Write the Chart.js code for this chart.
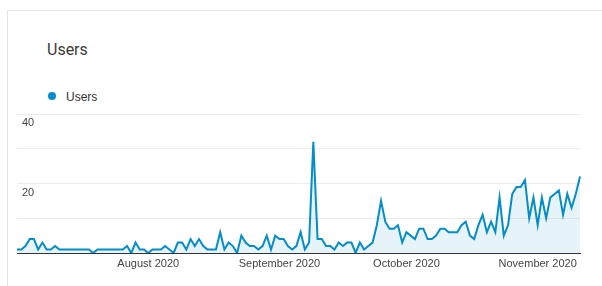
<!DOCTYPE html>
<html>
<head>
<meta charset="utf-8">
<script src="https://cdn.jsdelivr.net/npm/chart.js@4"></script>
<style>
    html, body { margin: 0; padding: 0; background: #fff; }
    #wrap { position: relative; width: 602px; height: 286px; overflow: hidden; }
    #card { position: absolute; left: 7px; top: 10px; right: 0; bottom: 0; border-left: 1px solid #e6e6e6; border-top: 1px solid #e6e6e6; }
    #title { position: absolute; left: 47px; top: 42px; font: 16px/16px Roboto, Arial, sans-serif; color: #3a3a3a; }
    #legend { position: absolute; left: 0; top: 0; }
    .legend-dot { position: absolute; left: 48px; top: 92px; width: 8px; height: 8px; border-radius: 50%; }
    .legend-text { position: absolute; left: 66px; top: 91px; font: 12px/12px "Liberation Sans", Arial, sans-serif; color: #333; white-space: nowrap; }
    canvas { position: absolute; left: 0; top: 0; }
</style>
</head>
<body>
<div id="wrap">
    <div id="card"></div>
    <div id="title">Users</div>
    <div id="legend"></div>
    <canvas id="myChart" width="602" height="286"></canvas>
</div>
<script>
const startDate = '2020-07-01';
const monthLabels = ['August 2020', 'September 2020', 'October 2020', 'November 2020'];
const yTickLabels = [20, 40];

// daily users, Jul 1 - Nov 11 2020
const users = [
    1, 1, 2, 4, 4, 1, 3, 1, 1, 2,
    1, 1, 1, 1, 1, 1, 1, 1, 0, 1,
    1, 1, 1, 1, 1, 1, 2, 0, 3, 1,
    1, 0, 1, 1, 1, 2, 1, 0, 3, 3,
    1, 4, 2, 4, 2, 1, 1, 1, 6, 1,
    3, 2, 0, 5, 3, 2, 2, 1, 2, 5,
    1, 5, 4, 4, 2, 1, 2, 6, 1, 3,
    32, 4, 4, 2, 2, 1, 3, 2, 3, 3,
    0, 3, 1, 2, 3, 8, 15, 9, 7, 7,
    8, 3, 6, 5, 4, 7, 7, 4, 4, 5,
    7, 7, 6, 6, 6, 8, 9, 5, 4, 8,
    11, 6, 9, 6, 16, 5, 8, 17, 19, 19,
    21, 10, 16, 8, 16, 10, 16, 17, 18, 11,
    17, 13, 17, 22
];

const days = [];
const d0 = new Date(startDate + 'T00:00:00');
for (let i = 0; i < users.length; i++) {
    const d = new Date(d0);
    d.setDate(d0.getDate() + i);
    days.push(d);
}
const labels = days.map(d => d.toDateString());

const lineColor = '#058dc7';

const legend = document.getElementById('legend');

var ctx = document.getElementById('myChart').getContext('2d');
var myChart = new Chart(ctx, {
    type: 'line',
    data: {
        labels: labels,
        datasets: [
            {
                label: 'Users',
                data: users,
                borderColor: lineColor,
                backgroundColor: 'rgba(5, 141, 199, 0.1)',
                borderWidth: 2,
                pointRadius: 0,
                tension: 0,
                fill: 'origin'
            }
        ]
    },
    options: {
        responsive: false,
        animation: false,
        layout: {
            padding: { left: 17, right: 22, top: 114, bottom: 0 }
        },
        plugins: {
            legend: { display: false },
            title: { display: false },
            tooltip: { enabled: false }
        },
        scales: {
            x: {
                offset: false,
                grid: { display: false, drawTicks: false },
                border: { display: true, color: '#333', width: 1 },
                afterFit: (axis) => { axis.height = 33; },
                ticks: {
                    autoSkip: false,
                    maxRotation: 0,
                    minRotation: 0,
                    padding: 4,
                    color: '#444',
                    font: { family: '"Liberation Sans", Arial, sans-serif', size: 11 },
                    callback: function (value, index) {
                        const d = days[index];
                        if (d.getDate() !== 1) return '';
                        const m = d.getMonth() - 7;
                        return monthLabels[m] || '';
                    }
                }
            },
            y: {
                min: 0,
                max: 40,
                grid: { color: '#ececec', drawTicks: false },
                border: { display: false },
                afterFit: (axis) => { axis.width = 0; },
                ticks: {
                    stepSize: 10,
                    mirror: true,
                    padding: 5,
                    labelOffset: 9,
                    color: '#444',
                    font: { family: '"Liberation Sans", Arial, sans-serif', size: 11 },
                    callback: (value) => yTickLabels.includes(value) ? value : ''
                }
            }
        }
    }
});

for (let ds of myChart.data.datasets) {
    const dot = document.createElement('div');
    dot.className = 'legend-dot';
    dot.style.background = ds.borderColor;
    const txt = document.createElement('div');
    txt.className = 'legend-text';
    txt.textContent = ds.label;
    legend.appendChild(dot);
    legend.appendChild(txt);
}
</script>
</body>
</html>
